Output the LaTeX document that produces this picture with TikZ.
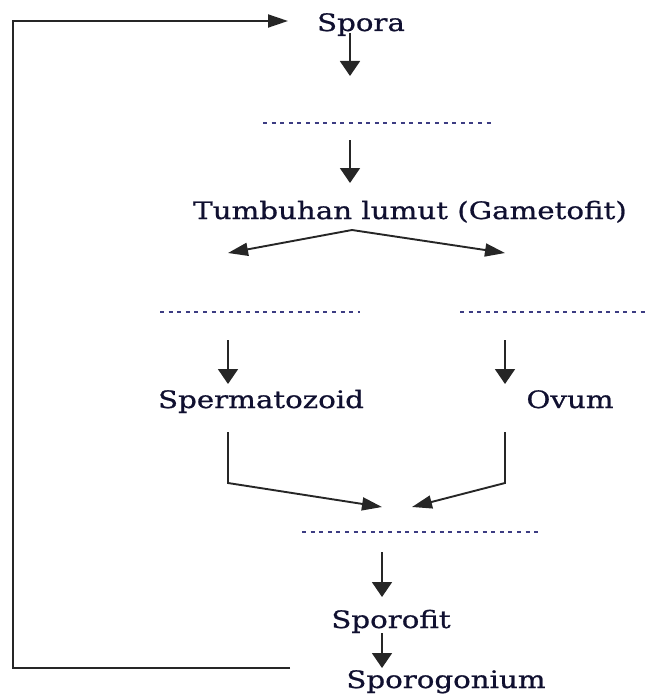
\documentclass[tikz,border=0pt]{standalone}
\usepackage{fontspec}
\setmainfont[FakeStretch=1.22,FakeBold=0.8]{DejaVu Serif}
\usetikzlibrary{arrows.meta}
\definecolor{txt}{RGB}{16,16,48}
\definecolor{dotc}{RGB}{60,60,130}
\begin{document}
\begin{tikzpicture}[x=1pt,y=-1pt,
  lbl/.style={anchor=base, inner sep=0pt, text=txt, font=\fontsize{24}{28}\selectfont},
  plain/.style={line width=1.9pt, draw=black!85},
  vconn/.style={plain, -{Triangle[length=15pt,width=20pt]}},
  dconn/.style={plain, -{Triangle[length=20pt,width=13pt]}},
  blank/.style={draw=dotc, line width=1.5pt, dash pattern=on 4pt off 4.6pt}]
\useasboundingbox (0,0) rectangle (656,698);
% text nodes
\node[lbl] (spora) at (361,31) {Spora};
\node[lbl] (tumb) at (410,219) {Tumbuhan lumut (Gametofit)};
\node[lbl] (sperm) at (261,408) {Spermatozoid};
\node[lbl] (ovum) at (570,408) {Ovum};
\node[lbl] (sporofit) at (391,628) {Sporofit};
\node[lbl] (sporog) at (446,688) {Sporogonium};
% blanks
\coordinate (b1l) at (263,123); \coordinate (b1r) at (493,123);
\coordinate (b2l) at (160,312); \coordinate (b2r) at (360,312);
\coordinate (b3l) at (460,312); \coordinate (b3r) at (648,312);
\coordinate (b4l) at (302,532); \coordinate (b4r) at (542,532);
\draw[blank] (b1l) -- (b1r);
\draw[blank] (b2l) -- (b2r);
\draw[blank] (b3l) -- (b3r);
\draw[blank] (b4l) -- (b4r);
% arrow coordinates
\coordinate (a1s) at (350,33); \coordinate (a1e) at (350,76);
\coordinate (a2s) at (350,140); \coordinate (a2e) at (350,183);
\coordinate (br) at (352,230); \coordinate (brl) at (228,253); \coordinate (brr) at (505,253);
\coordinate (a3s) at (228,340); \coordinate (a3e) at (228,384);
\coordinate (a4s) at (505,340); \coordinate (a4e) at (505,384);
\coordinate (c1s) at (228,432); \coordinate (c1m) at (228,483); \coordinate (c1e) at (382,507);
\coordinate (c2s) at (505,432); \coordinate (c2m) at (505,483); \coordinate (c2e) at (412,507);
\coordinate (a5s) at (382,552); \coordinate (a5e) at (382,597);
\coordinate (a6s) at (382,633); \coordinate (a6e) at (382,668);
\coordinate (fb0) at (290,668); \coordinate (fb1) at (13,668); \coordinate (fb2) at (13,21); \coordinate (fb3) at (288,21);
% connectors
\draw[vconn] (a1s) -- (a1e);
\draw[vconn] (a2s) -- (a2e);
\draw[dconn] (br) -- (brl);
\draw[dconn] (br) -- (brr);
\draw[vconn] (a3s) -- (a3e);
\draw[vconn] (a4s) -- (a4e);
\draw[dconn] (c1s) -- (c1m) -- (c1e);
\draw[dconn] (c2s) -- (c2m) -- (c2e);
\draw[vconn] (a5s) -- (a5e);
\draw[vconn] (a6s) -- (a6e);
\draw[dconn] (fb0) -- (fb1) -- (fb2) -- (fb3);
\end{tikzpicture}
\end{document}
